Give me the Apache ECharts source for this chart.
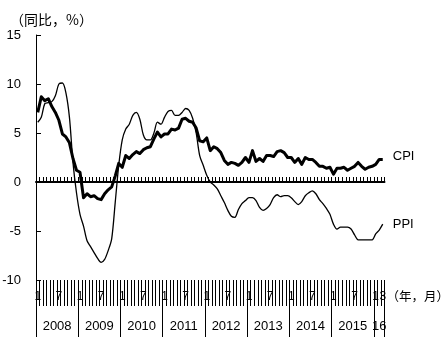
<!DOCTYPE html>
<html lang="zh">
<head>
    <meta charset="UTF-8">
    <title>CPI PPI</title>
    <script src="https://cdn.jsdelivr.net/npm/echarts@6/dist/echarts.min.js"></script>
</head>
<body style="margin:0">
<div id="chart" style="width: 447px;height: 348px;"></div>
<script>
    // 2008-01 ~ 2016-03，同比 %
    var cpi = [
        7.1, 8.7, 8.3, 8.5, 7.7, 7.1, 6.3, 4.9, 4.6, 4.0, 2.4, 1.2,
        1.0, -1.6, -1.2, -1.5, -1.4, -1.7, -1.8, -1.2, -0.8, -0.5, 0.6, 1.9,
        1.5, 2.7, 2.4, 2.8, 3.1, 2.9, 3.3, 3.5, 3.6, 4.4, 5.1, 4.6,
        4.9, 4.9, 5.4, 5.3, 5.5, 6.4, 6.5, 6.2, 6.1, 5.5, 4.2, 4.1,
        4.5, 3.2, 3.6, 3.4, 3.0, 2.2, 1.8, 2.0, 1.9, 1.7, 2.0, 2.5,
        2.0, 3.2, 2.1, 2.4, 2.1, 2.7, 2.7, 2.6, 3.1, 3.2, 3.0, 2.5,
        2.5, 2.0, 2.4, 1.8, 2.5, 2.3, 2.3, 2.0, 1.6, 1.6, 1.4, 1.5,
        0.8, 1.4, 1.4, 1.5, 1.2, 1.4, 1.6, 2.0, 1.6, 1.3, 1.5, 1.6,
        1.8, 2.3, 2.3
    ];
    var ppi = [
        6.1, 6.6, 8.0, 8.1, 8.2, 8.8, 10.0, 10.1, 9.1, 6.6, 2.0, -1.1,
        -3.3, -4.5, -6.0, -6.6, -7.2, -7.8, -8.2, -7.9, -7.0, -5.8, -2.1, 1.7,
        4.3, 5.4, 5.9, 6.8, 7.1, 6.4, 4.8, 4.3, 4.3, 5.0, 6.1, 5.9,
        6.6, 7.2, 7.3, 6.8, 6.8, 7.1, 7.5, 7.3, 6.5, 5.0, 2.7, 1.7,
        0.7, 0.0, -0.3, -0.7, -1.4, -2.1, -2.9, -3.5, -3.6, -2.8, -2.2, -1.9,
        -1.6, -1.6, -1.9, -2.6, -2.9, -2.7, -2.3, -1.6, -1.3, -1.5, -1.4, -1.4,
        -1.6, -2.0, -2.3, -2.0, -1.4, -1.1, -0.9, -1.2, -1.8, -2.2, -2.7, -3.3,
        -4.3, -4.8, -4.6, -4.6, -4.6, -4.8, -5.4, -5.9, -5.9, -5.9, -5.9, -5.9,
        -5.3, -4.9, -4.3
    ];
    var years = ['2008', '2009', '2010', '2011', '2012', '2013', '2014', '2015', '16'];
    var yearStart = [0, 12, 24, 36, 48, 60, 72, 84, 96, 99];   // 年分隔线（按月序号）
    var yearMid = [6, 18, 30, 42, 54, 66, 78, 90, 97.5];

    var months = [];
    for (var i = 0; i < cpi.length; i++) {
        months.push((i % 12) + 1);
    }
    var lastIdx = months.length - 1;

    var font = 'Liberation Sans, Arial, sans-serif';
    var cjk = 'Noto Sans CJK JP, sans-serif';

    var myChart = echarts.init(document.getElementById('chart'));
    var option = {
        backgroundColor: '#fff',
        animation: false,
        title: {
            text: '（同比，%）',
            left: 5,
            top: 8,
            textStyle: {fontFamily: cjk, fontSize: 14, fontWeight: 'normal', color: '#000'}
        },
        grid: {left: 36, right: 62.5, top: 35, bottom: 68, containLabel: false, outerBoundsMode: 'none'},
        xAxis: [{
            // 月份刻度
            type: 'category',
            data: months,
            boundaryGap: true,
            position: 'bottom',
            axisLine: {show: false, onZero: false},
            axisTick: {show: true, interval: 0, length: 26, lineStyle: {color: '#000', width: 1}},
            axisLabel: {
                interval: function (index) {
                    return index % 12 === 0 || index % 12 === 6 || index === lastIdx;
                },
                margin: 11,
                fontFamily: font,
                fontSize: 12,
                color: '#000'
            },
            name: '（年，月）',
            nameLocation: 'end',
            nameGap: 2,
            nameMoveOverlap: false,
            nameTextStyle: {fontFamily: cjk, fontSize: 12.5, color: '#000', verticalAlign: 'top', padding: [10, 0, 0, 0]}
        }, {
            // 0 线
            type: 'category',
            data: months,
            boundaryGap: true,
            position: 'bottom',
            axisLine: {show: true, onZero: true, onZeroAxisIndex: 0, lineStyle: {color: '#000', width: 2}},
            axisTick: {show: true, inside: true, interval: 0, length: 5, lineStyle: {color: '#000', width: 1}},
            axisLabel: {show: false}
        }, {
            // 年份
            type: 'value',
            min: 0,
            max: 99,
            position: 'bottom',
            axisLine: {show: false, onZero: false},
            splitLine: {show: false},
            axisTick: {show: true, customValues: yearStart, length: 57, lineStyle: {color: '#000', width: 1}},
            axisLabel: {
                customValues: yearMid,
                margin: 40,
                fontFamily: font,
                fontSize: 13,
                color: '#000',
                formatter: function (v) {
                    return years[yearMid.indexOf(v)];
                }
            }
        }],
        yAxis: {
            type: 'value',
            min: -10,
            max: 15,
            interval: 5,
            axisLine: {show: true, lineStyle: {color: '#000', width: 1}},
            axisTick: {show: true, inside: true, length: 5, lineStyle: {color: '#000'}},
            splitLine: {show: false},
            axisLabel: {margin: 15, fontFamily: font, fontSize: 13, color: '#000'}
        },
        series: [{
            name: 'PPI',
            type: 'line',
            data: ppi,
            symbol: 'none',
            smooth: 0.3,
            lineStyle: {color: '#000', width: 1.3},
            endLabel: {show: true, formatter: 'PPI', distance: 10, fontFamily: font, fontSize: 13, color: '#000'}
        }, {
            name: 'CPI',
            type: 'line',
            data: cpi,
            symbol: 'none',
            lineStyle: {color: '#000', width: 3, join: 'round'},
            endLabel: {show: true, formatter: 'CPI', distance: 10, offset: [0, -3], fontFamily: font, fontSize: 13, color: '#000'}
        }]
    };
    myChart.setOption(option);
</script>
</body>
</html>
